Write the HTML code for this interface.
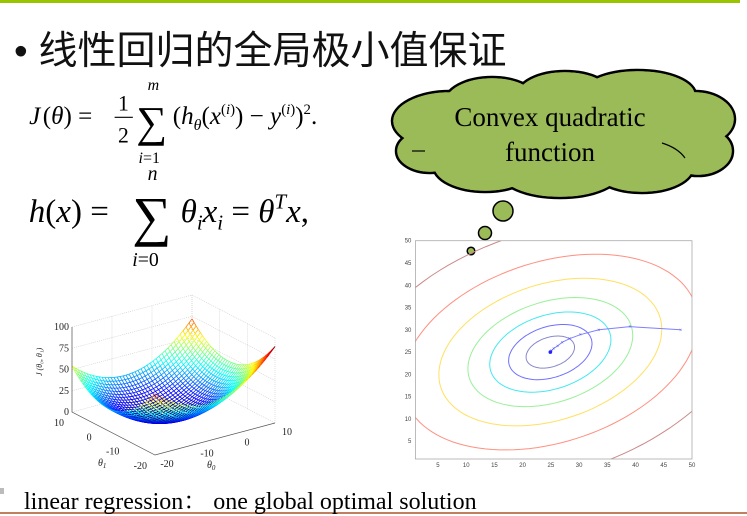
<!DOCTYPE html>
<html><head><meta charset="utf-8"><style>
body{margin:0;width:747px;height:516px;background:#fff;position:relative;overflow:hidden;font-family:"Liberation Serif",serif}
.abs{position:absolute}
</style></head><body>
<div class="abs" style="left:0;top:0;width:740px;height:3px;background:#99c400"></div>
<div class="abs" style="left:0;top:512px;width:747px;height:2px;background:#c08060"></div>
<div class="abs" style="left:14px;top:20px;font:39px 'Liberation Sans','Noto Sans CJK SC',sans-serif;color:#111;white-space:nowrap">•&nbsp;线性回归的全局极小值保证</div>

<svg class="abs" style="left:20px;top:74px;transform:scale(1.14);transform-origin:0 0" width="320" height="92">
<text x="8" y="44" font-family="Liberation Serif" font-size="22" font-style="italic">J</text>
<text x="20" y="44" font-family="Liberation Serif" font-size="22">(<tspan font-style="italic">θ</tspan>) =</text>
<text x="86" y="32" font-family="Liberation Serif" font-size="19">1</text>
<line x1="83" y1="38" x2="99" y2="38" stroke="#000" stroke-width="1"/>
<text x="86" y="60" font-family="Liberation Serif" font-size="19">2</text>
<text x="102" y="55" font-family="Liberation Serif" font-size="38">∑</text>
<text x="112" y="14" font-family="Liberation Serif" font-size="14" font-style="italic">m</text>
<text x="104" y="78" font-family="Liberation Serif" font-size="14"><tspan font-style="italic">i</tspan>=1</text>
<text x="134" y="44" font-family="Liberation Serif" font-size="22">(<tspan font-style="italic">h</tspan><tspan font-size="14" dy="5" font-style="italic">θ</tspan><tspan dy="-5">(</tspan><tspan font-style="italic">x</tspan><tspan font-size="13" dy="-9">(<tspan font-style="italic">i</tspan>)</tspan><tspan dy="9">) − </tspan><tspan font-style="italic">y</tspan><tspan font-size="13" dy="-9">(<tspan font-style="italic">i</tspan>)</tspan><tspan dy="9">)</tspan><tspan font-size="13" dy="-9">2</tspan><tspan dy="9">.</tspan></text>
</svg>

<svg class="abs" style="left:20px;top:158px;transform:scale(1.1);transform-origin:0 0" width="320" height="105">
<text x="8" y="58" font-family="Liberation Serif" font-size="30"><tspan font-style="italic">h</tspan>(<tspan font-style="italic">x</tspan>) =</text>
<text x="102" y="70" font-family="Liberation Serif" font-size="50">∑</text>
<text x="116" y="20" font-family="Liberation Serif" font-size="18" font-style="italic">n</text>
<text x="102" y="98" font-family="Liberation Serif" font-size="18"><tspan font-style="italic">i</tspan>=0</text>
<text x="146" y="58" font-family="Liberation Serif" font-size="30"><tspan font-style="italic">θ</tspan><tspan font-size="19" dy="7" font-style="italic">i</tspan><tspan dy="-7" font-style="italic">x</tspan><tspan font-size="19" dy="7" font-style="italic">i</tspan><tspan dy="-7"> = </tspan><tspan font-style="italic">θ</tspan><tspan font-size="19" dy="-12" font-style="italic">T</tspan><tspan dy="12" font-style="italic">x</tspan>,</text>
</svg>

<svg class="abs" style="left:380px;top:63px" width="367" height="210">
<g stroke="#000" stroke-width="2.5" fill="#9bbb59">
<ellipse cx="70" cy="58" rx="58" ry="30"/><ellipse cx="50" cy="88" rx="34" ry="22"/>
<ellipse cx="112" cy="40" rx="48" ry="26"/><ellipse cx="185" cy="32" rx="48" ry="24"/>
<ellipse cx="258" cy="32" rx="58" ry="25"/><ellipse cx="315" cy="56" rx="40" ry="28"/>
<ellipse cx="318" cy="88" rx="35" ry="25"/><ellipse cx="262" cy="104" rx="52" ry="26"/>
<ellipse cx="180" cy="108" rx="62" ry="27"/><ellipse cx="105" cy="103" rx="52" ry="26"/>
<ellipse cx="185" cy="70" rx="130" ry="40"/>
</g>
<g fill="#9bbb59">
<ellipse cx="70" cy="58" rx="56.7" ry="28.7"/><ellipse cx="50" cy="88" rx="32.7" ry="20.7"/>
<ellipse cx="112" cy="40" rx="46.7" ry="24.7"/><ellipse cx="185" cy="32" rx="46.7" ry="22.7"/>
<ellipse cx="258" cy="32" rx="56.7" ry="23.7"/><ellipse cx="315" cy="56" rx="38.7" ry="26.7"/>
<ellipse cx="318" cy="88" rx="33.7" ry="23.7"/><ellipse cx="262" cy="104" rx="50.7" ry="24.7"/>
<ellipse cx="180" cy="108" rx="60.7" ry="25.7"/><ellipse cx="105" cy="103" rx="50.7" ry="24.7"/>
<ellipse cx="185" cy="70" rx="128.7" ry="38.7"/>
</g>
<g stroke="#000" stroke-width="1.2" fill="none">
<path d="M32 88 L45 88"/><path d="M282 80 Q298 85 305 95"/>
</g>
<text x="170" y="63" text-anchor="middle" font-family="Liberation Serif" font-size="27">Convex quadratic</text>
<text x="170" y="98" text-anchor="middle" font-family="Liberation Serif" font-size="27">function</text>
<circle cx="123" cy="148" r="10" fill="#9bbb59" stroke="#000" stroke-width="1.5"/>
<circle cx="105" cy="170" r="6.5" fill="#9bbb59" stroke="#000" stroke-width="1.5"/>
<circle cx="91" cy="188" r="3.8" fill="#9bbb59" stroke="#000" stroke-width="1.5"/>
</svg>

<svg class="abs" id="contour" style="left:0;top:0" width="747" height="516"></svg>
<svg class="abs" id="surf" style="left:0;top:0" width="747" height="516"></svg>

<div class="abs" style="left:0;top:488px;width:4px;height:6px;background:#bbb"></div>
<div class="abs" style="left:24px;top:481px;font:24px 'Liberation Serif','Noto Serif CJK SC',serif;color:#000;white-space:nowrap">linear regression：&nbsp;one global optimal solution</div>

<script>
const NS="http://www.w3.org/2000/svg";
const xTicks=[5,10,15,20,25,30,35,40,45,50];
const yTicks=[5,10,15,20,25,30,35,40,45,50];
const contourLevels=[1,1.72,2.5,3.4,4.6,6.1,8.2];
const contourColors=["#8888cc","#7070ff","#44e8f0","#99f099","#ffe060","#ff9080","#cc8888"];
const centerX=[24.9];const centerY=[25];
const pathX=[48,39,33.5,30.2,28.3,27,26.2,25.5,25.1,24.9];
const pathY=[30,30.7,30,28.9,28,27.2,26.4,25.8,25.3,25];
const ellA=4.6, ellB=3.2, ellPhi=30*Math.PI/180;
const X0=415.4,X1=692,Y0=459,Y1=240.7;
const sx=v=>X0+(v-1)*(X1-X0)/49, sy=v=>Y0-(v-1)*(Y0-Y1)/49;
const C=document.getElementById('contour');
function mk(p,tag,at){const e=document.createElementNS(NS,tag);for(const k in at)e.setAttribute(k,at[k]);p.appendChild(e);return e;}
const cp=mk(C,'clipPath',{id:'cc'});mk(cp,'rect',{x:X0,y:Y1,width:X1-X0,height:Y0-Y1});
const gC=mk(C,'g',{'clip-path':'url(#cc)'});
contourLevels.forEach((s,i)=>{let d="";for(let k=0;k<=120;k++){const t=k/120*2*Math.PI;
 const u=s*ellA*Math.cos(t),v=s*ellB*Math.sin(t);
 const dx=u*Math.cos(ellPhi)-v*Math.sin(ellPhi),dy=u*Math.sin(ellPhi)+v*Math.cos(ellPhi);
 d+=(k?"L":"M")+sx(centerX[0]+dx).toFixed(1)+" "+sy(centerY[0]+dy).toFixed(1);}
 const e=mk(gC,'path',{d:d,fill:'none',stroke:contourColors[i],'stroke-width':1});
 
 
});
let pd="";pathX.forEach((x,i)=>{pd+=(i?"L":"M")+sx(x)+" "+sy(pathY[i]);});
const pl=mk(C,'path',{d:pd,fill:'none',stroke:'#7f7fff','stroke-width':1});


pathX.forEach((x,i)=>{const m=mk(C,'text',{x:sx(x),y:sy(pathY[i])+2,'font-size':6,'text-anchor':'middle',fill:'#44f'});m.textContent='×';
 
 });
mk(C,'circle',{cx:sx(centerX[0]),cy:sy(centerY[0]),r:1.8,fill:'#22f'});
const fr=mk(C,'rect',{x:X0,y:Y1,width:X1-X0,height:Y0-Y1,fill:'none',stroke:'#aaa','stroke-width':0.8});


xTicks.forEach(v=>{const t=mk(C,'text',{x:sx(v),y:Y0+8,'font-size':6,'text-anchor':'middle',fill:'#444','font-family':'Liberation Sans'});t.textContent=v;
 
 });
yTicks.forEach(v=>{const t=mk(C,'text',{x:X0-4,y:sy(v)+2,'font-size':6,'text-anchor':'end',fill:'#444','font-family':'Liberation Sans'});t.textContent=v;
 
 });

const zTicks=[0,25,50,75,100];
const theta1Ticks=[10,0,-10,-20];
const theta0Ticks=[-20,-10,0,10];
const S=document.getElementById('surf');
const P=(t0,t1,z)=>{const a=(t0+20)/30,b=(10-t1)/30;
 const x=72+a*(192-72)+b*(155-72);const y=412+a*(380-412)+b*(455-412)-z*0.85;return [x,y];};
function jet(v){v=Math.max(0,Math.min(1,v));const r=Math.min(1,Math.max(0,1.5-Math.abs(4*v-3))),g=Math.min(1,Math.max(0,1.5-Math.abs(4*v-2))),b=Math.min(1,Math.max(0,1.5-Math.abs(4*v-1)));return `rgb(${r*255|0},${g*255|0},${b*255|0})`;}
const J=(a,b)=>((a+5)*(a+5)*0.16+(b+5)*(b+5)*0.16+ (a-b)*0.6);
const gg=mk(S,'g',{stroke:'#ccc','stroke-width':0.6,'stroke-dasharray':'1,1',fill:'none'});
zTicks.forEach(z=>{const a=P(-20,10,z),b=P(10,10,z),c=P(10,-20,z);mk(gg,'path',{d:`M${a}L${b}L${c}`});});
[-20,-10,0,10].forEach(t=>{const a=P(t,10,0),b=P(t,10,100);mk(gg,'path',{d:`M${a}L${b}`});const c=P(10,-t-10,0),d2=P(10,-t-10,100);mk(gg,'path',{d:`M${c}L${d2}`});});
const N=40,gs=mk(S,'g',{'stroke-width':0.8,fill:'none'});
for(let i=N;i>=0;i--){for(let j=0;j<N;j++){
 const t0=-20+30*i/N,t1a=10-30*j/N,t1b=10-30*(j+1)/N;
 const za=J(t0,t1a),zb=J(t0,t1b);
 mk(gs,'path',{d:`M${P(t0,t1a,za)}L${P(t0,t1b,zb)}`,stroke:jet((za+zb)/180)});
 const u0=-20+30*j/N,u1=-20+30*(j+1)/N,t1=10-30*i/N;
 const zc=J(u0,t1),zd=J(u1,t1);
 mk(gs,'path',{d:`M${P(u0,t1,zc)}L${P(u1,t1,zd)}`,stroke:jet((zc+zd)/180)});
}}
const ax=mk(S,'g',{stroke:'#555','stroke-width':0.7,fill:'none'});
mk(ax,'path',{d:`M${P(-20,10,100)}L${P(-20,10,0)}L${P(-20,-20,0)}L${P(10,-20,0)}`});
const fs={'font-size':10,'font-family':'Liberation Serif',fill:'#222'};
zTicks.forEach(z=>{const p=P(-20,10,z);const t=mk(S,'text',Object.assign({x:p[0]-3,y:p[1]+3,'text-anchor':'end'},fs));t.textContent=z;
 
 });
theta1Ticks.forEach(v=>{const p=P(-20,v,0);const t=mk(S,'text',Object.assign({x:p[0]-8,y:p[1]+14,'text-anchor':'end'},fs));t.textContent=v;
 
 });
theta0Ticks.forEach(v=>{const p=P(v,-20,0);const t=mk(S,'text',Object.assign({x:p[0]+12,y:p[1]+12,'text-anchor':'middle'},fs));t.textContent=v;
 
 });
const l1=mk(S,'text',Object.assign({x:98,y:466,'font-style':'italic'},fs));l1.innerHTML='θ<tspan font-size="7" dy="2">1</tspan>';


const l0=mk(S,'text',Object.assign({x:207,y:468,'font-style':'italic'},fs));l0.innerHTML='θ<tspan font-size="7" dy="2">0</tspan>';


const lj=mk(S,'text',Object.assign({x:0,y:0,'font-style':'italic',transform:'translate(42,376) rotate(-90)'},fs));lj.setAttribute('font-size',8);lj.textContent='J (θ₀, θ₁)';


</script>
</body></html>
